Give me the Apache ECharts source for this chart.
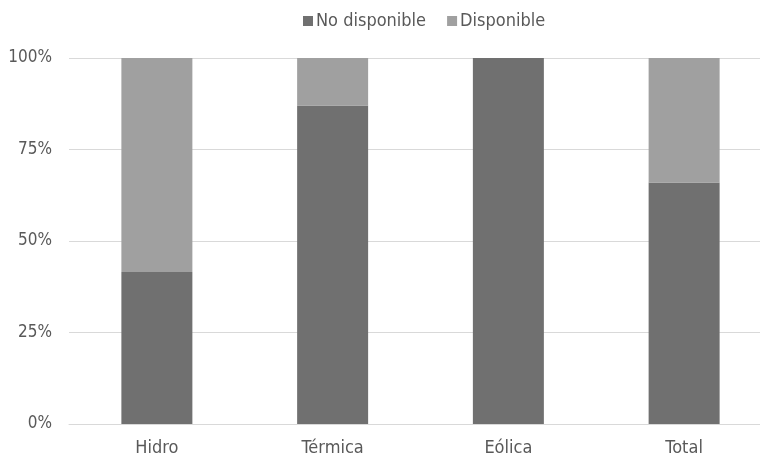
<!DOCTYPE html>
<html><head><meta charset="utf-8">
<script src="https://cdn.jsdelivr.net/npm/echarts@6/dist/echarts.min.js"></script>
<style>html,body{margin:0;padding:0;background:#fff}#c{width:760px;height:456px}</style>
</head><body><div id="c"></div>
<script>
const categories = ['Hidro', 'Térmica', 'Eólica', 'Total'];
const noDisponible = [41.5, 87, 100, 66];
const disponible = [58.5, 13, 0, 34];
const yTicks = [0, 25, 50, 75, 100];

const font = '"DejaVu Sans Condensed", "DejaVu Sans", sans-serif';
const fs = 18;
const chart = echarts.init(document.getElementById('c'));
chart.setOption({
  animation: false,
  textStyle: { fontFamily: font },
  legend: {
    top: 7, left: 298, itemGap: 21,
    itemWidth: 10, itemHeight: 10, icon: 'rect',
    textStyle: { fontSize: fs, color: '#595959', fontFamily: font, padding: [0, 0, 0, -2] },
    data: ['No disponible', 'Disponible']
  },
  grid: { left: 69, top: 58, width: 703, height: 366, outerBoundsMode: 'none', containLabel: false },
  xAxis: {
    type: 'category', data: categories,
    axisLine: { show: true, lineStyle: { color: '#d9d9d9' } },
    axisTick: { show: false },
    axisLabel: { fontSize: fs, color: '#595959', margin: 15, fontFamily: font }
  },
  yAxis: {
    type: 'value', min: yTicks[0], max: yTicks[yTicks.length - 1], interval: 25,
    axisLabel: { formatter: '{value}%', fontSize: 17, color: '#595959', margin: 17, fontFamily: font },
    splitLine: { lineStyle: { color: '#d9d9d9' } },
    axisLine: { show: false }, axisTick: { show: false }
  },
  series: [
    { name: 'No disponible', type: 'bar', stack: 's', data: noDisponible, barWidth: 71, itemStyle: { color: '#707070' } },
    { name: 'Disponible', type: 'bar', stack: 's', data: disponible, barWidth: 71, itemStyle: { color: '#a0a0a0' } }
  ]
});
</script></body></html>
